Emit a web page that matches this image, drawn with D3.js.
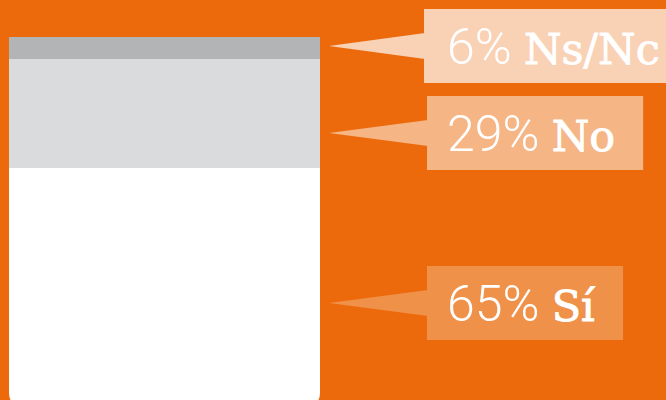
<!DOCTYPE html>
<html><head><meta charset="utf-8">
<script src="https://cdn.jsdelivr.net/npm/d3@7"></script>
<style>html,body{margin:0;padding:0;background:#EC6A0C;overflow:hidden}</style>
</head><body>
<svg id="c" width="666" height="400"></svg>
<script>
// data (bottom to top)
const categories = ["Sí", "No", "Ns/Nc"];
const values = [65, 29, 6];
const percentLabels = ["65%", "29%", "6%"];

// styling / layout
const segColors = ["#FFFFFF", "#DADBDD", "#B3B4B5"];
const boxColors = ["#F0914A", "#F5B585", "#F9D1B5"];
const labelCenters = [303, 133, 46];

const W = 666, H = 400;
const svg = d3.select("#c");
svg.append("rect").attr("width", W).attr("height", H).attr("fill", "#EC6A0C");

const y = d3.scaleLinear().domain([0, 100]).range([409, 37]).interpolate(d3.interpolateRound);
const x0 = 9, x1 = 320;

let cum = 0;
const segs = values.map((v, i) => { const s = {i, v, lo: cum, hi: cum + v}; cum += v; return s; });

const clipId = "barclip";
const cp = svg.append("clipPath").attr("id", clipId);
cp.append("rect")
  .attr("x", x0).attr("y", y(100)).attr("width", x1 - x0).attr("height", y(0) - y(100))
  .attr("rx", 16).attr("ry", 16);
cp.append("rect")
  .attr("x", x0).attr("y", y(100)).attr("width", x1 - x0).attr("height", 40);

svg.append("g").attr("clip-path", `url(#${clipId})`).attr("shape-rendering", "crispEdges")
  .selectAll("rect").data(segs).join("rect")
  .attr("x", x0).attr("width", x1 - x0)
  .attr("y", d => y(d.hi)).attr("height", d => y(d.lo) - y(d.hi) + (d.i < 2 ? 1 : 0))
  .attr("fill", d => segColors[d.i]);

// callouts
const boxH = 74, tipX = 329, boxLeft = [427, 427, 424], textX = 447;
const g = svg.append("g");
segs.forEach(d => {
  const cy = labelCenters[d.i];
  const gg = g.append("g");
  const box = gg.append("rect").attr("fill", boxColors[d.i]);
  gg.append("path")
    .attr("d", `M${tipX},${cy} L${boxLeft[d.i] + 1},${cy - 13} L${boxLeft[d.i] + 1},${cy + 13} Z`)
    .attr("fill", boxColors[d.i]);
  const t = gg.append("text").attr("x", textX).attr("y", cy + 17.5)
    .attr("fill", "#fff").attr("font-size", 50);
  t.append("tspan").attr("font-family", "Roboto").attr("font-weight", 300).text(percentLabels[d.i] + " ");
  t.append("tspan").attr("font-family", "DejaVu Serif").attr("font-weight", 400).attr("font-size", 43)
    .attr("stroke", "#fff").attr("stroke-width", 0.9).text(categories[d.i]);
  const bb = t.node().getBBox();
  box.attr("x", boxLeft[d.i]).attr("y", cy - boxH / 2)
    .attr("width", bb.x + bb.width + 28 - boxLeft[d.i]).attr("height", boxH);
});
</script>
</body></html>
